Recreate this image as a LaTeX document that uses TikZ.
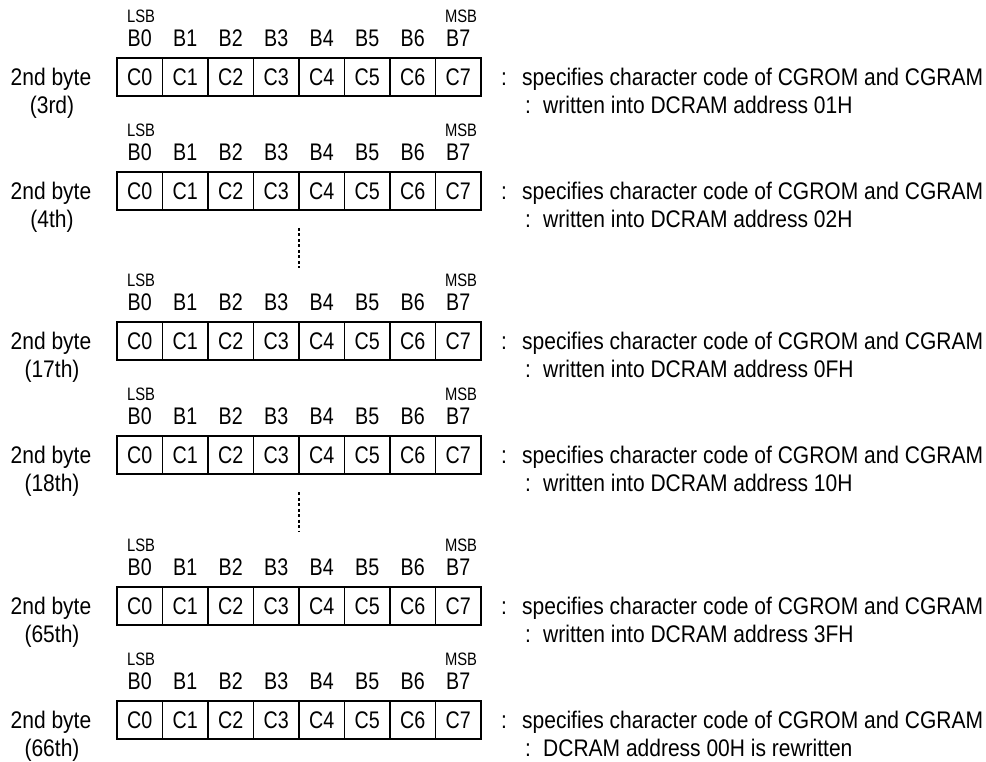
\documentclass[tikz,border=0pt]{standalone}
\usepackage{fontspec}
\setmainfont{Liberation Sans}[FakeStretch=0.82]
\newfontfamily\widefont{Liberation Sans}[FakeStretch=0.875]
\begin{document}
\begin{tikzpicture}[x=1pt,y=-1pt,
  big/.style={font=\fontsize{24}{28}\selectfont, inner sep=0pt, text height=17.2pt, text depth=0pt},
  wide/.style={font=\fontsize{24}{28}\selectfont\widefont, inner sep=0pt, text height=17.2pt, text depth=0pt},
  small/.style={font=\fontsize{18}{21}\selectfont, inner sep=0pt, text height=12.9pt, text depth=0pt},
  cell/.style={big, draw, line width=1.2pt, minimum width=45.5pt, minimum height=38pt},
  dots/.style={line width=1.3pt, dash pattern=on 3pt off 2.5pt}]
\useasboundingbox (0,0) rectangle (986,762);
\foreach \r/\top/\ord/\second in {
  1/58/3rd/{written into DCRAM address 01H},
  2/172/4th/{written into DCRAM address 02H},
  3/322/17th/{written into DCRAM address 0FH},
  4/436/18th/{written into DCRAM address 10H},
  5/587/65th/{written into DCRAM address 3FH},
  6/701/66th/{DCRAM address 00H is rewritten}} {
  \foreach \i in {0,...,7} {
    \node[cell] (c\r-\i) at ({117+45.5*(\i+0.5)}, \top+19) {C\i};
    \node[big] (b\r-\i) at ({117+45.5*(\i+0.5)}, \top-20) {B\i};
  }
  \node[small] (lsb\r) at (141, \top-42) {LSB};
  \node[small] (msb\r) at (461, \top-42) {MSB};
  \node[wide] (nb\r) at (51, \top+19) {2nd byte};
  \node[wide] (ord\r) at (52, \top+47) {(\ord)};
  \node[wide] (ca\r) at (504, \top+19) {:};
  \node[wide, anchor=west] (ta\r) at (522, \top+19) {specifies character code of CGROM and CGRAM};
  \node[wide] (cb\r) at (528, \top+47) {:};
  \node[wide, anchor=west] (tb\r) at (543, \top+47) {\second};
}
\coordinate (d1a) at (299, 228);
\coordinate (d1b) at (299, 268);
\coordinate (d2a) at (299, 492);
\coordinate (d2b) at (299, 532);
\draw[dots] (d1a) -- (d1b);
\draw[dots] (d2a) -- (d2b);
\end{tikzpicture}
\end{document}
